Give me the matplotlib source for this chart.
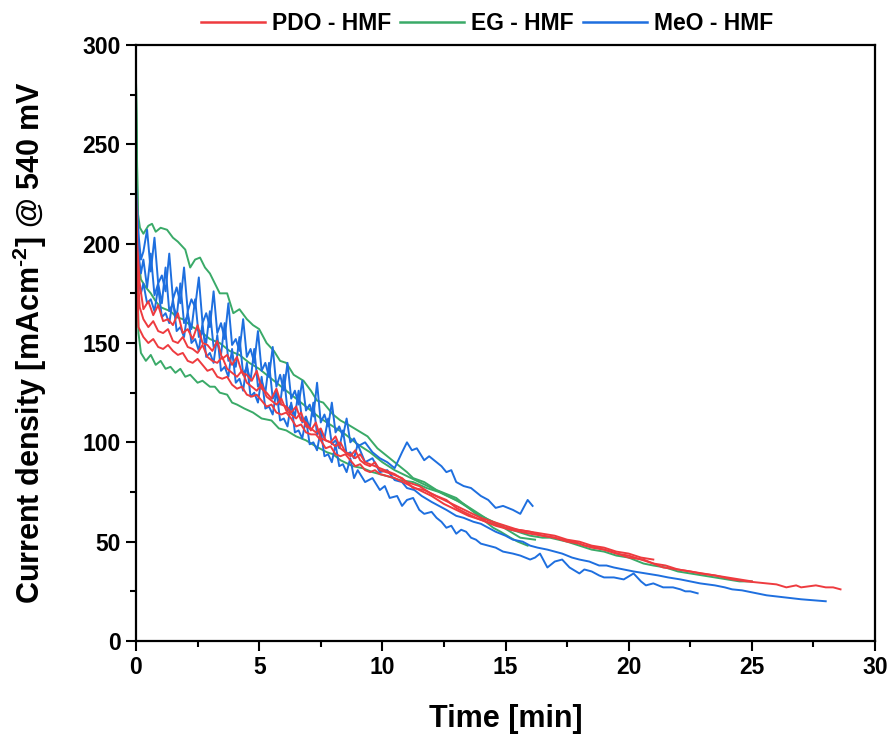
import matplotlib
matplotlib.use("Agg")
import matplotlib.pyplot as plt
from matplotlib.lines import Line2D

plt.rcParams['font.family'] = ['Liberation Sans', 'DejaVu Sans']
plt.rcParams['font.weight'] = 'bold'
plt.rcParams['mathtext.fontset'] = 'custom'
plt.rcParams['mathtext.rm'] = 'Liberation Sans:bold'
plt.rcParams['mathtext.it'] = 'Liberation Sans:bold'
plt.rcParams['mathtext.bf'] = 'Liberation Sans:bold'
plt.rcParams['mathtext.default'] = 'rm'

# ---------------- data (time [min], current density [mA cm^-2]) ----------------
pdo1_t = [0, 0.05, 0.15, 0.3, 0.5, 0.7, 0.9, 1.1, 1.3, 1.5, 1.7, 1.9, 2.1, 2.3, 2.5, 2.7, 2.9, 3.1, 3.3,
          3.5, 3.7, 3.9, 4.1, 4.3, 4.5, 4.7, 4.9, 5.1, 5.3, 5.5, 5.7, 5.9, 6.1, 6.3, 6.5, 6.7, 6.9, 7.1, 7.3,
          7.5, 7.7, 7.9, 8.1, 8.3, 8.5, 8.7, 8.9, 9.1, 9.3, 9.5, 9.7, 9.9,
          10.4, 10.8, 11.25, 11.7, 12.2, 12.6, 13, 13.3, 13.8, 14.2, 14.6, 15.2, 15.6, 16, 16.5, 17, 17.3, 17.8,
          18.2, 18.7, 19.3, 20, 20.6, 21, 21.4, 22, 22.5, 22.9, 23.5, 24.2, 24.8, 25.6, 26, 26.4, 26.8, 27,
          27.3, 27.6, 28, 28.3, 28.6]
pdo1_v = [228, 200, 180, 167, 171, 164, 169, 161, 162, 159, 165, 155, 157, 152, 159, 150, 149, 146, 151,
          142, 144, 139, 143, 135, 134, 131, 136, 127, 125, 122, 127, 119, 118, 115, 118, 111, 110, 106, 110,
          102, 101, 100, 103, 97, 95, 93, 96, 91, 89, 88, 90, 86,
          84, 82, 77, 76, 73, 71, 67, 65, 62, 60, 58, 56, 55, 54, 53, 52, 51, 50,
          48, 47, 45, 42, 41, 39, 37, 36, 35, 34, 33, 31, 30, 29, 28.5, 27, 28, 27,
          27.5, 28, 27, 27, 26]

pdo2_t = [0, 0.05, 0.15, 0.3, 0.5, 0.7, 0.9, 1.1, 1.3, 1.5, 1.7, 1.9, 2.1, 2.3, 2.5, 2.7, 2.9, 3.1, 3.3,
          3.5, 3.7, 3.9, 4.1, 4.3, 4.5, 4.7, 4.9, 5.1, 5.3, 5.5, 5.7, 5.9, 6.1, 6.3, 6.5, 6.7, 6.9, 7.1, 7.3,
          7.5, 7.7, 7.9, 8.1, 8.3, 8.5, 8.7, 8.9, 9.1, 9.3, 9.5, 9.7, 9.9,
          10.5, 11, 11.5, 12, 12.5, 13, 13.5, 14, 14.5, 15, 15.5, 16, 16.5, 17, 17.5, 18, 18.5, 19,
          19.5, 20, 20.5, 21, 21.5, 22, 22.5, 23, 23.5, 24, 24.5, 25]
pdo2_v = [220, 190, 168, 162, 158, 161, 156, 155, 157, 151, 150, 153, 148, 147, 145, 149, 143, 141, 140,
          143, 137, 135, 133, 136, 130, 128, 126, 129, 123, 121, 119, 122, 116, 114, 112, 115, 108, 107, 105,
          107, 101, 100, 98, 100, 95, 94, 92, 94, 90, 89, 88, 87,
          84, 80, 78, 74, 71, 68, 65, 62, 60, 58, 56, 55, 53, 52, 50, 49, 47, 46,
          44, 43, 41, 39, 38, 36, 35, 34, 33, 32, 31, 30]

pdo3_t = [0, 0.05, 0.1, 0.3, 0.5, 0.7, 0.9, 1.1, 1.3, 1.5, 1.7, 1.9, 2.1, 2.3, 2.5, 2.7, 2.9, 3.1, 3.3,
          3.5, 3.7, 3.9, 4.1, 4.3, 4.5, 4.7, 4.9, 5.1, 5.3, 5.5, 5.7, 5.9, 6.1, 6.3, 6.5, 6.7, 6.9, 7.1, 7.3,
          7.5, 7.7, 7.9, 8.1, 8.3, 8.5, 8.7, 8.9, 9.1, 9.3, 9.5, 9.7, 9.9,
          10.5, 11, 11.5, 12, 12.5, 13, 13.5, 14, 14.5, 15, 15.5, 16, 16.5, 17, 17.5, 18, 18.5, 19,
          19.5, 20, 20.5, 21]
pdo3_v = [215, 180, 158, 153, 150, 152, 148, 147, 149, 146, 144, 145, 141, 140, 142, 139, 136, 137, 133,
          132, 133, 129, 127, 128, 124, 123, 124, 121, 118, 119, 115, 114, 115, 112, 108, 109, 105, 104, 104,
          101, 97, 98, 94, 93, 94, 91, 88, 89, 86, 85, 86, 84,
          82, 79, 76, 73, 69, 66, 63, 61, 59, 57, 56, 55, 54, 53, 51, 50, 48, 47,
          45, 44, 42, 41]

eg1_t = [0, 0.03, 0.08, 0.16, 0.3, 0.5, 0.65, 0.8, 1.0, 1.26, 1.5, 1.7, 2.0, 2.2, 2.4, 2.6, 2.8, 3.0, 3.2, 3.4,
         3.7, 3.95, 4.2, 4.5, 4.75, 5.0, 5.3, 5.6, 5.85, 6.1, 6.4, 6.8, 7.1, 7.35, 7.6, 8.0, 8.3, 8.6, 9.0, 9.4,
         9.8, 10.2, 10.6, 11.0, 11.25, 11.7, 12.2, 12.6, 13, 13.4, 13.8, 14.2, 14.5, 14.8, 15.2, 15.5, 15.7, 15.9]
eg1_v = [282, 250, 215, 208, 205, 209, 210, 206, 208, 207, 203, 201, 197, 188, 192, 193, 188, 185, 180, 175,
         175, 165, 167, 162, 159, 157, 150, 146, 141, 140, 134, 131, 126, 121, 120, 114, 111, 109, 106, 103,
         97, 93, 89, 85, 82, 80, 76, 74, 72, 68, 64, 60, 57, 55, 52, 50, 49, 48]

eg2_t = [0, 0.05, 0.12, 0.2, 0.4, 0.6, 0.8, 1.0, 1.2, 1.4, 1.65, 1.9, 2.3, 2.6, 3.0, 3.4, 3.8, 4.2, 4.6, 5.0,
         5.5, 6, 6.5, 7, 7.5, 8, 8.5, 9, 9.5, 10, 10.5, 11, 11.5, 12, 12.5, 13, 13.5, 14, 14.5, 15,
         15.5, 16, 16.5, 16.8, 17.5, 18, 18.5, 19, 19.5, 20, 20.6, 21, 21.5, 22, 22.5, 23, 23.5, 24, 24.5, 25]
eg2_v = [282, 230, 190, 182, 178, 175, 171, 168, 167, 166, 163, 162, 158, 156, 152, 150, 146, 144, 140, 137,
         132, 127, 122, 117, 112, 108, 104, 99, 95, 90, 86, 83, 80, 77, 74, 71, 67, 63, 60, 57,
         55, 53, 52, 52, 50, 48, 46, 45, 43, 42, 39, 38, 37, 35, 34, 33, 32, 31, 30, 30]

eg3_t = [0, 0.05, 0.1, 0.2, 0.4, 0.6, 0.8, 1.0, 1.2, 1.4, 1.6, 1.8, 2.0, 2.2, 2.5, 2.7, 3.0, 3.2, 3.4, 3.7,
         3.9, 4.1, 4.4, 4.75, 5.1, 5.5, 5.8, 6.1, 6.5, 6.9, 7.3, 7.75, 8.0, 8.3, 8.8, 9.2, 9.6, 10.2, 10.7, 11.25,
         11.8, 12.3, 12.8, 13.3, 13.8, 14.3, 14.8, 15.2, 15.6, 16.2]
eg3_v = [282, 200, 155, 145, 141, 144, 139, 141, 137, 138, 135, 137, 133, 134, 130, 131, 128, 128, 125, 124,
         120, 119, 117, 115, 112, 111, 107, 106, 103, 101, 98, 95, 94, 91, 88, 87, 85, 83, 81, 80,
         77, 75, 72, 69, 65, 61, 58, 55, 52, 51]

meo1_t = [0, 0.1, 0.2, 0.3, 0.45, 0.6, 0.75, 0.9, 1.05, 1.2, 1.35, 1.5, 1.65, 1.8, 1.95, 2.1, 2.25, 2.4, 2.55,
          2.7, 2.85, 3.0, 3.15, 3.3, 3.45, 3.6, 3.75, 3.9, 4.05, 4.2, 4.35, 4.5, 4.65, 4.8, 4.95, 5.1, 5.25,
          5.4, 5.55, 5.7, 5.85, 6.0, 6.15, 6.3, 6.45, 6.6, 6.75, 6.9, 7.05, 7.2, 7.35, 7.5, 7.65, 7.8, 7.95,
          8.1, 8.25, 8.4, 8.55, 8.7, 8.85, 9.0,
          9.3, 9.6, 9.9, 10.2, 10.5, 10.8, 11.0, 11.2, 11.4, 11.7, 11.9, 12.2, 12.4, 12.6, 12.8, 13.0, 13.3,
          13.6, 14, 14.3, 14.6, 14.9, 15.3, 15.6, 15.9, 16.1]
meo1_v = [230, 205, 192, 196, 207, 186, 203, 180, 184, 176, 195, 172, 178, 170, 188, 166, 172, 168, 183,
          160, 165, 158, 176, 155, 160, 152, 170, 149, 152, 146, 162, 143, 147, 140, 156, 136, 140,
          133, 148, 128, 134, 126, 140, 122, 126, 119, 131, 116, 119, 113, 130, 110, 114, 108, 120,
          105, 108, 103, 112, 100, 102, 98,
          100, 95, 92, 90, 87, 95, 100, 96, 97, 91, 93, 90, 88, 85, 86, 80, 78,
          77, 73, 71, 67, 68, 66, 64, 71, 68]

meo2_t = [0, 0.1, 0.2, 0.3, 0.45, 0.6, 0.75, 0.9, 1.05, 1.2, 1.35, 1.5, 1.65, 1.8, 1.95, 2.1, 2.25, 2.4, 2.55,
          2.7, 2.85, 3.0, 3.15, 3.3, 3.45, 3.6, 3.75, 3.9, 4.05, 4.2, 4.35, 4.5, 4.65, 4.8, 4.95, 5.1, 5.25,
          5.4, 5.55, 5.7, 5.85, 6.0, 6.15, 6.3, 6.45, 6.6, 6.75, 6.9, 7.05, 7.2, 7.35, 7.5, 7.65, 7.8, 7.95,
          8.1, 8.25, 8.4, 8.55, 8.7, 8.85, 9.0,
          9.3, 9.6, 9.9, 10.1, 10.3, 10.6, 10.8, 11.0, 11.25, 11.5, 11.7, 12.0, 12.2, 12.4, 12.6, 12.8, 13,
          13.2, 13.4, 13.6, 13.8, 14, 14.3, 14.6, 14.9, 15.3, 15.6, 16, 16.2, 16.4, 16.7, 17, 17.3, 17.6,
          18, 18.2, 18.5, 18.8, 19, 19.4, 19.8, 20.2, 20.5, 20.7, 21, 21.2, 21.4, 21.8, 22.1, 22.3, 22.5, 22.8]
meo2_v = [200, 182, 175, 180, 170, 172, 166, 178, 163, 165, 160, 172, 156, 158, 153, 166, 150, 152, 146,
          160, 143, 145, 140, 154, 136, 138, 133, 147, 130, 132, 126, 140, 123, 125, 120, 133, 117,
          118, 114, 126, 111, 112, 108, 120, 105, 106, 102, 112, 99, 100, 96, 106, 93, 94, 90,
          99, 88, 89, 85, 92, 82, 86,
          80, 82, 76, 78, 72, 73, 68, 71, 72, 66, 64, 65, 62, 60, 57, 58, 54,
          56, 55, 52, 51, 49, 48, 47, 45, 44, 43, 41, 42, 44, 37, 40, 41, 37,
          34, 36, 35, 33, 32, 32, 31, 34, 30, 28, 29, 28, 27, 27, 26, 25, 25, 24]

meo3_t = [0, 0.1, 0.2, 0.3, 0.45, 0.6, 0.75, 0.9, 1.05, 1.2, 1.35, 1.5, 1.65, 1.8, 1.95, 2.1, 2.25, 2.4, 2.55,
          2.7, 2.85, 3.0, 3.15, 3.3, 3.45, 3.6, 3.75, 3.9, 4.05, 4.2, 4.35, 4.5, 4.65, 4.8, 4.95, 5.1, 5.25,
          5.4, 5.55, 5.7, 5.85, 6.0, 6.15, 6.3, 6.45, 6.6, 6.75, 6.9, 7.05, 7.2, 7.35, 7.5, 7.65, 7.8, 7.95,
          8.1, 8.25, 8.4, 8.55, 8.7, 8.85, 9.0,
          9.3, 9.6, 9.9, 10.2, 10.5, 10.8, 11, 11.3, 11.6, 12, 12.3, 12.6, 13, 13.3, 13.7, 14, 14.3, 14.6,
          15, 15.3, 15.7, 16, 16.3, 16.7, 17, 17.3, 17.7, 18, 18.4, 18.8, 19.1, 19.4, 19.8, 20.2, 20.7, 21.2,
          21.6, 22.1, 22.5, 22.9, 23.5, 23.9, 24.2, 24.6, 25, 25.6, 26.3, 27, 27.5, 28]
meo3_v = [215, 195, 185, 192, 178, 195, 174, 180, 170, 188, 166, 170, 163, 180, 160, 164, 157, 172, 153,
          156, 150, 166, 148, 150, 144, 160, 141, 144, 138, 153, 134, 138, 131, 147, 128, 131, 125,
          140, 122, 125, 119, 134, 116, 119, 113, 126, 110, 113, 107, 120, 104, 106, 102, 112, 99,
          101, 97, 106, 94, 95, 92, 99,
          90, 92, 85, 86, 81, 80, 77, 76, 73, 70, 68, 66, 63, 62, 60, 59, 57, 55,
          53, 51, 50, 48, 47, 46, 45, 44, 42, 41, 40, 38, 38, 37, 36, 35, 34, 33,
          32, 31, 30, 29, 28, 27, 26, 25.5, 24.5, 23, 22, 21, 20.5, 20]

series_names = ['PDO - HMF', 'EG - HMF', 'MeO - HMF']
x_ticks = [0, 5, 10, 15, 20, 25, 30]
y_ticks = [0, 50, 100, 150, 200, 250, 300]
x_minor = [2.5, 7.5, 12.5, 17.5, 22.5, 27.5]
y_minor = [25, 75, 125, 175, 225, 275]

# ---------------- figure ----------------
RED = '#EE3B3F'
GREEN = '#3AAA68'
BLUE = '#1E6FDF'

fig = plt.figure(figsize=(8.93, 7.38), dpi=100)
ax = fig.add_axes([136 / 893, 1 - 641 / 738, (875 - 136) / 893, (641 - 45) / 738])

lw = 1.4
for t, v in [(eg1_t, eg1_v), (eg2_t, eg2_v), (eg3_t, eg3_v)]:
    ax.plot(t, v, color=GREEN, lw=lw)
for t, v in [(meo1_t, meo1_v), (meo2_t, meo2_v), (meo3_t, meo3_v)]:
    ax.plot(t, v, color=BLUE, lw=lw)
for t, v in [(pdo1_t, pdo1_v), (pdo2_t, pdo2_v), (pdo3_t, pdo3_v)]:
    ax.plot(t, v, color=RED, lw=lw)

handles = [Line2D([], [], color=c, lw=1.8) for c in (RED, GREEN, BLUE)]
leg = ax.legend(handles, series_names, loc='center', bbox_to_anchor=(0.475, 1.0 + 21 / 596),
                ncol=3, frameon=False, fontsize=16.5, handlelength=2.8, columnspacing=0.4,
                handletextpad=0.3, borderaxespad=0.0, borderpad=0.0)
for txt in leg.get_texts():
    txt.set_fontweight('bold')

ax.set_xlim(0, 30)
ax.set_ylim(0, 300)
ax.set_xticks(x_ticks)
ax.set_yticks(y_ticks)
ax.set_xticks(x_minor, minor=True)
ax.set_yticks(y_minor, minor=True)
ax.tick_params(axis='both', which='major', direction='out', length=7, width=1.5,
               labelsize=16.5, pad=4, top=False, right=False)
ax.tick_params(axis='both', which='minor', direction='out', length=4, width=1.5,
               top=False, right=False)
for lab in ax.get_xticklabels() + ax.get_yticklabels():
    lab.set_fontweight('bold')
for sp in ax.spines.values():
    sp.set_linewidth(1.6)

ax.set_xlabel('Time [min]', fontsize=22, fontweight='bold', labelpad=18)
ax.set_ylabel('Current density [mAcm$^{\u20102}$] @ 540 mV',
              fontsize=22, fontweight='bold', labelpad=24)

fig.savefig('out.png', dpi=100)
